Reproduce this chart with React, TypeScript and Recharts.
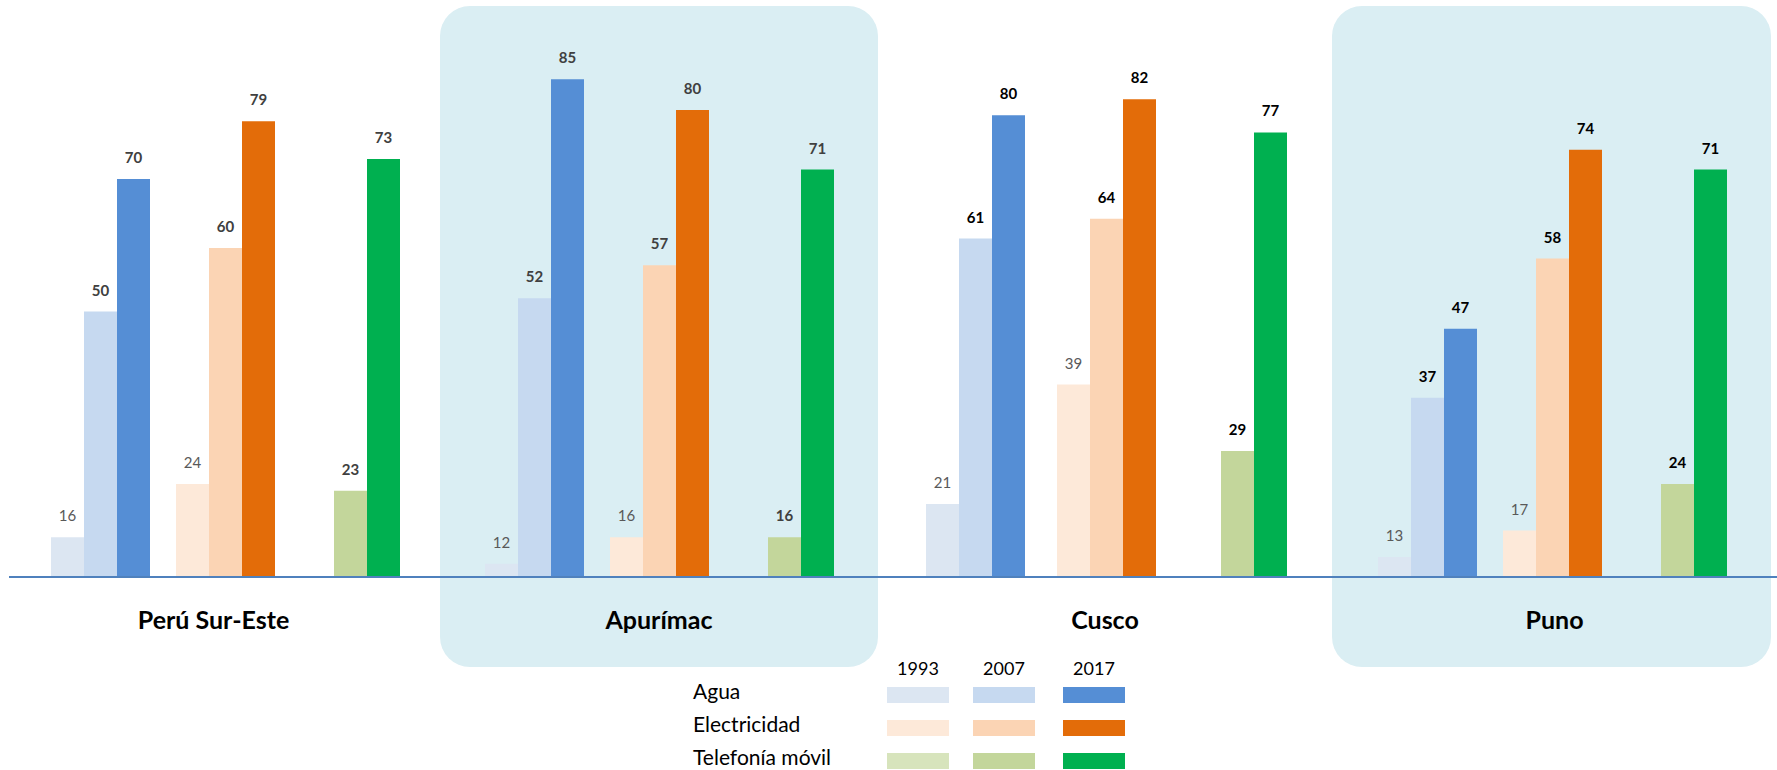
import * as React from 'react';
import { Bar, BarChart, Cell, Label, LabelList, XAxis, YAxis } from 'recharts';

const regions = ['Perú Sur-Este', 'Apurímac', 'Cusco', 'Puno'];
const services = ['Agua', 'Electricidad', 'Telefonía móvil'];
const years = ['1993', '2007', '2017'];

// values per region, same order as `regions`
const agua1993 = [16, 12, 21, 13];
const agua2007 = [50, 52, 61, 37];
const agua2017 = [70, 85, 79.6, 47.4];
const electricidad1993 = [24, 16, 39, 17];
const electricidad2007 = [59.6, 57, 64, 58];
const electricidad2017 = [78.7, 80.4, 82, 74.4];
const movil1993 = [0, 0, 0, 0];
const movil2007 = [23, 16, 29, 24];
const movil2017 = [73, 71.4, 77, 71.4];

const seriesByService = [
  [agua1993, agua2007, agua2017],
  [electricidad1993, electricidad2007, electricidad2017],
  [movil1993, movil2007, movil2017],
];

const serviceColors = [
  ['#DCE6F2', '#C6D9F0', '#558ED5'],
  ['#FDE9D9', '#FBD4B4', '#E36C09'],
  ['#D7E4BC', '#C3D69B', '#00B050'],
];

const font = "Lato, 'Open Sans', sans-serif";
const labelColors = ['#404040', '#404040', '#000000', '#000000'];
const chartEdges = [9, 440, 878, 1332, 1777];
const axisPadding = [[29, 27], [32, 31], [32, 29], [33, 37]];
const regionLabelDx = [-11, 0, 0, 0];
const boxes = [null, { left: 440, width: 438 }, null, { left: 1332, width: 439 }];

const legendCols = [887, 973, 1063];
const legendRows = [687, 720, 753];

const regionData = (r: number) =>
  services.map((s, si) => ({
    service: s,
    y1993: seriesByService[si][0][r],
    y2007: seriesByService[si][1][r],
    y2017: seriesByService[si][2][r],
  }));

const RegionChart = ({ r }: { r: number }) => {
  const data = regionData(r);
  const w = chartEdges[r + 1] - chartEdges[r];
  return (
    <div style={{ position: 'absolute', left: chartEdges[r], top: 6 }}>
      <BarChart width={w} height={661} data={data} margin={{ top: 7, right: 0, bottom: 0, left: 0 }} barGap={0} barSize={33}>
        <XAxis
          dataKey='service'
          tick={false}
          tickLine={false}
          axisLine={{ stroke: '#4F81BD', strokeWidth: 2 }}
          height={90}
          padding={{ left: axisPadding[r][0], right: axisPadding[r][1] }}
        >
          <Label
            value={regions[r]}
            position='insideTop'
            offset={34}
            dx={regionLabelDx[r]}
            style={{ fontSize: 25, fontWeight: 700, fill: '#000', fontFamily: font }}
          />
        </XAxis>
        <YAxis hide={true} domain={[10, 95]} allowDataOverflow={true} />
        {years.map((y, j) => (
          <Bar key={y} dataKey={`y${y}`} isAnimationActive={false}>
            {data.map((d, i) => <Cell key={d.service} fill={serviceColors[i][j]} />)}
            <LabelList
              dataKey={`y${y}`}
              position='top'
              offset={16}
              formatter={(v: any) => (v >= 10 ? Math.round(v) : '')}
              fill={j === 0 ? '#595959' : labelColors[r]}
              fontSize={15}
              fontWeight={j === 0 ? 400 : 700}
              fontFamily={font}
            />
          </Bar>
        ))}
      </BarChart>
    </div>
  );
};

export default function App() {
  return (
    <div style={{ position: 'absolute', left: 0, top: 0, width: 1777, height: 770, overflow: 'hidden', fontFamily: font, background: '#fff' }}>
      {boxes.map((b, i) =>
        b ? (
          <div
            key={i}
            style={{ position: 'absolute', left: b.left, top: 6, width: b.width, height: 661, background: '#DAEEF3', borderRadius: 30 }}
          />
        ) : null
      )}
      {regions.map((_, r) => <RegionChart key={r} r={r} />)}
      {years.map((y, j) => (
        <div key={y} style={{ position: 'absolute', left: legendCols[j], width: 62, top: 658, textAlign: 'center', fontSize: 18, lineHeight: '20px', color: '#000' }}>
          {y}
        </div>
      ))}
      {services.map((s, i) => (
        <React.Fragment key={s}>
          <div style={{ position: 'absolute', left: 693, top: legendRows[i] - 4, fontSize: 21, lineHeight: '16px', color: '#000' }}>{s}</div>
          {years.map((y, j) => (
            <div
              key={y}
              style={{ position: 'absolute', left: legendCols[j], top: legendRows[i], width: 62, height: 16, background: serviceColors[i][j] }}
            />
          ))}
        </React.Fragment>
      ))}
    </div>
  );
}
